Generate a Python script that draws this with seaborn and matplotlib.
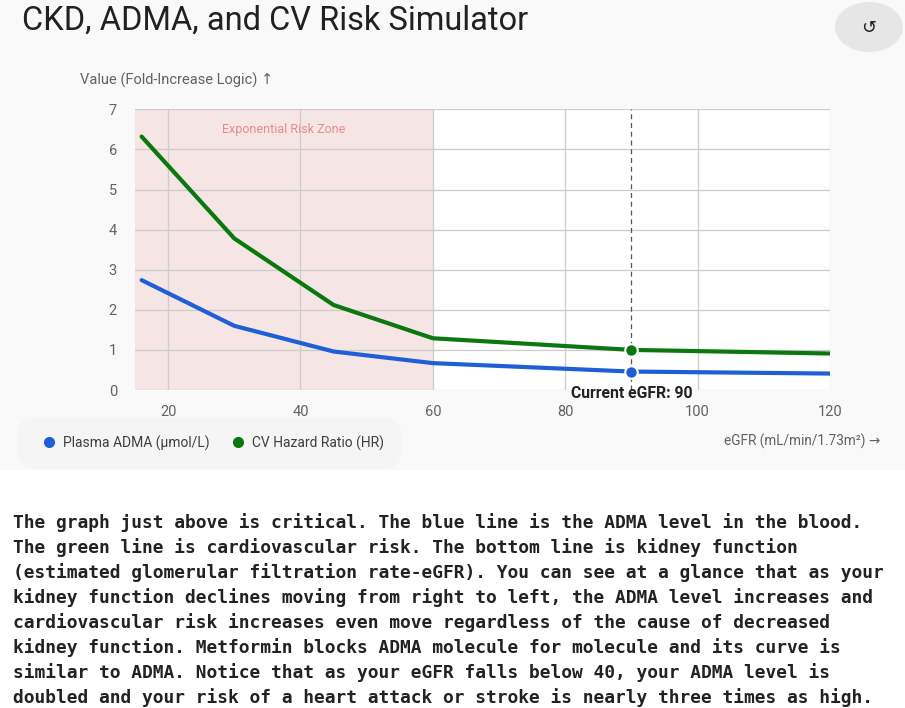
import numpy as np
import pandas as pd
import matplotlib
matplotlib.use("Agg")
import matplotlib.pyplot as plt
import matplotlib.patches as mpatches
from matplotlib.lines import Line2D
import seaborn as sns

# data
egfr = [16, 30, 45, 60, 90, 120]
adma = [2.74, 1.60, 0.96, 0.67, 0.46, 0.41]
hazard = [6.32, 3.78, 2.12, 1.29, 1.00, 0.91]
current_egfr = 90
risk_zone = (15, 60)
x_ticks = [20, 40, 60, 80, 100, 120]
y_ticks = [0, 1, 2, 3, 4, 5, 6, 7]
series_names = ["Plasma ADMA (\u03bcmol/L)", "CV Hazard Ratio (HR)"]

body_lines = [
    "The graph just above is critical. The blue line is the ADMA level in the blood.",
    "The green line is cardiovascular risk. The bottom line is kidney function",
    "(estimated glomerular filtration rate-eGFR). You can see at a glance that as your",
    "kidney function declines moving from right to left, the ADMA level increases and",
    "cardiovascular risk increases even move regardless of the cause of decreased",
    "kidney function. Metformin blocks ADMA molecule for molecule and its curve is",
    "similar to ADMA. Notice that as your eGFR falls below 40, your ADMA level is",
    "doubled and your risk of a heart attack or stroke is nearly three times as high.",
]

blue = "#1f5fd6"
green = "#0b780f"
grey_txt = "#5f6368"

sns.set_style("white")
plt.rcParams["font.family"] = ["Roboto", "DejaVu Sans"]

df = pd.DataFrame({
    "eGFR": egfr * 2,
    "value": adma + hazard,
    "series": [series_names[0]] * len(egfr) + [series_names[1]] * len(egfr),
})

W, H = 905, 708
fig = plt.figure(figsize=(W / 100, H / 100), dpi=100)
fig.patch.set_facecolor("white")

# light grey card behind the chart
card = mpatches.Rectangle((0, 1 - 470 / H), 1, 470 / H, transform=fig.transFigure,
                          facecolor="#f9f9f9", edgecolor="none", zorder=-10)
fig.patches.append(card)

ax = fig.add_axes([135 / W, 1 - 390 / H, 695 / W, 280.7 / H])
ax.set_facecolor("white")

# risk zone
ax.axvspan(risk_zone[0], risk_zone[1], color="#f5e5e4", zorder=0, lw=0)
ax.text(sum(risk_zone) / 2, 6.5, "Exponential Risk Zone", color="#e48c8c",
        fontsize=9, ha="center", va="center", zorder=1)

sns.lineplot(data=df, x="eGFR", y="value", hue="series",
             palette=[blue, green], linewidth=3, ax=ax, legend=False, zorder=3)

# current marker
ax.axvline(current_egfr, color="#555555", lw=0.9, ls=(0, (4, 3)), zorder=2)
i = egfr.index(current_egfr)
ax.plot([current_egfr], [adma[i]], "o", color=blue, ms=9, mec="white", mew=1.5, zorder=4)
ax.plot([current_egfr], [hazard[i]], "o", color=green, ms=9, mec="white", mew=1.5, zorder=4)
ax.text(current_egfr, -0.08, "Current eGFR: " + str(current_egfr), ha="center", va="center",
        fontsize=11.3, fontweight="bold", color="#222222", zorder=5)

ax.set_xlim(15, 120)
ax.set_ylim(0, 7)
ax.set_xticks(x_ticks)
ax.set_yticks(y_ticks)
ax.grid(True, color="#cccccc", lw=0.9, zorder=1)
ax.set_axisbelow(True)
for spine in ax.spines.values():
    spine.set_visible(False)
ax.tick_params(axis="both", length=0, labelsize=10.5, labelcolor=grey_txt)
ax.tick_params(axis="x", pad=10.5)
ax.tick_params(axis="y", pad=13)
ax.set_xlabel("")
ax.set_ylabel("")

# axis titles
fig.text(80 / W, 1 - 80 / H, "Value (Fold-Increase Logic) \u2191", fontsize=10.5,
         color=grey_txt, ha="left", va="center")
fig.text(880 / W, 1 - 441 / H, "eGFR (mL/min/1.73m\u00b2) \u2192", fontsize=9.8,
         color=grey_txt, ha="right", va="center")

# legend
handles = [Line2D([], [], marker="o", ls="", color=c, ms=7) for c in (blue, green)]
leg = fig.legend(handles, series_names, loc="center left",
                 bbox_to_anchor=(14 / W, 1 - 443 / H), ncol=2, frameon=True,
                 facecolor="#f4f4f4", edgecolor="none", fontsize=10,
                 handletextpad=0.05, columnspacing=1.0, borderpad=1.0)
leg.get_frame().set_boxstyle("round,pad=0.3,rounding_size=1.5")
for t in leg.get_texts():
    t.set_color("#3c4043")

# title and refresh button
fig.text(22 / W, 1 - 21 / H, "CKD, ADMA, and CV Risk Simulator", fontsize=23.5,
         color="#202124", ha="left", va="center")
button = mpatches.Ellipse((869 / W, 1 - 27 / H), 68 / W, 50 / H,
                          transform=fig.transFigure, facecolor="#e6e6e6",
                          edgecolor="none")
fig.patches.append(button)
fig.text(869 / W, 1 - 28 / H, "\u21ba", fontsize=13, color="#202124",
         ha="center", va="center", family="DejaVu Sans")

# text under the chart
for k, line in enumerate(body_lines):
    fig.text(13 / W, 1 - (523 + 25 * k) / H, line, fontsize=12.85, fontweight="bold",
             family="DejaVu Sans Mono", color="#222222", ha="left", va="center")

fig.savefig("out.png", dpi=100)
